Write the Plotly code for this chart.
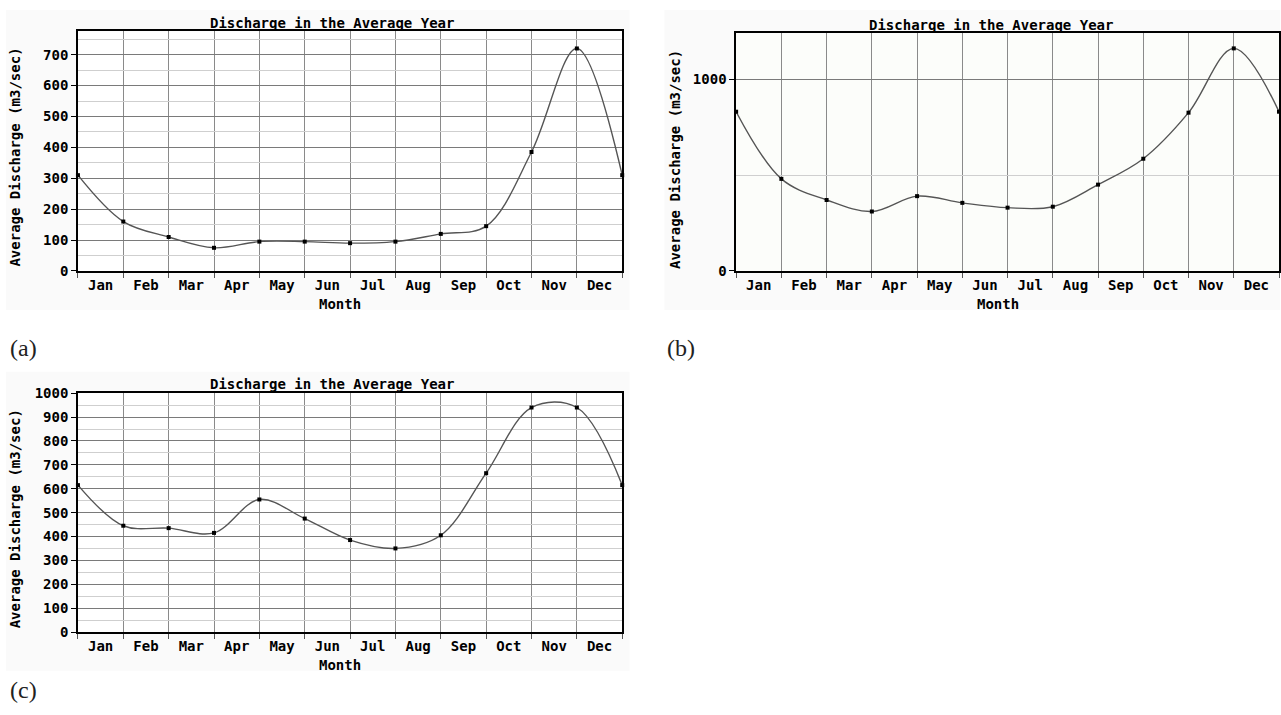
import plotly.graph_objects as go

W, H = 1281, 715

months = ["Jan", "Feb", "Mar", "Apr", "May", "Jun", "Jul", "Aug", "Sep", "Oct", "Nov", "Dec"]
discharge_a = [310, 160, 110, 75, 95, 95, 90, 95, 120, 145, 385, 720]
discharge_b = [830, 480, 370, 310, 390, 355, 330, 335, 450, 585, 825, 1160]
discharge_c = [615, 445, 435, 415, 555, 475, 385, 350, 405, 665, 940, 940]

title_text = "Discharge in the Average Year"
ytitle_text = "Average Discharge (m3/sec)"
xtitle_text = "Month"

FONT = "DejaVu Sans Mono"
FS = 14


def px_x(v):
    return v / W


def px_y(v):
    return 1 - v / H


panels = [
    dict(key="", vals=discharge_a, box=(78, 24, 622.7, 269), yr=[0, 775],
         ymaj=list(range(0, 701, 100)), ymin=list(range(50, 776, 50)),
         bg="#ffffff", chart=(6, 2, 630, 309),
         title=(332, 15), ytitle=(15, 152), xtitle=(340, 302.7), label=("(a)", 8, 348)),
    dict(key="2", vals=discharge_b, box=(736.7, 26, 1280, 269), yr=[0, 1238],
         ymaj=[0, 1000], ymin=[500],
         bg="#fcfdfa", chart=(665, 2, 1281, 309),
         title=(991.7, 17.7), ytitle=(675, 155), xtitle=(999, 302.7), label=("(b)", 666, 348)),
    dict(key="3", vals=discharge_c, box=(78, 394, 622.7, 638.3), yr=[0, 1000],
         ymaj=list(range(0, 1001, 100)), ymin=list(range(50, 1000, 100)),
         bg="#ffffff", chart=(6, 372, 630, 678),
         title=(332, 385), ytitle=(15, 522), xtitle=(340, 671.7), label=("(c)", 8, 698)),
]

fig = go.Figure()
shapes = []
annotations = []
layout = {}

for p in panels:
    k = p["key"]
    l, t, r, b = p["box"]
    xs = list(range(13))
    ys = p["vals"] + [p["vals"][0]]
    fig.add_trace(go.Scatter(
        x=xs, y=ys, mode="lines+markers",
        xaxis="x" + k, yaxis="y" + k,
        line=dict(color="#555555", width=1.4, shape="spline", smoothing=1),
        marker=dict(symbol="square", size=4, color="#000000"),
        cliponaxis=False, showlegend=False, hoverinfo="skip",
    ))
    layout["xaxis" + k] = dict(
        domain=[px_x(l), px_x(r)], anchor="y" + k, range=[0, 12],
        tickmode="array", tickvals=[i + 0.5 for i in range(12)], ticktext=months,
        ticks="", ticklen=0,
        showgrid=False, zeroline=False,
        showline=True, mirror=True, linecolor="#000000", linewidth=1.5,
        tickfont=dict(family=FONT, size=FS, color="#000000", weight="bold"),
        minor=dict(tickmode="array", tickvals=list(range(13)), ticks="outside",
                   ticklen=5, tickcolor="#555555", showgrid=True,
                   gridcolor="#8a8a8a", gridwidth=1),
        fixedrange=True,
    )
    layout["yaxis" + k] = dict(
        domain=[px_y(b), px_y(t)], anchor="x" + k, range=p["yr"],
        tickmode="array", tickvals=p["ymaj"],
        ticks="outside", ticklen=5, tickcolor="#000000",
        showgrid=True, gridcolor="#7a7a7a", gridwidth=1, zeroline=False,
        showline=True, mirror=True, linecolor="#000000", linewidth=1.5,
        tickfont=dict(family=FONT, size=FS, color="#000000", weight="bold"),
        minor=dict(tickmode="array", tickvals=p["ymin"], ticks="",
                   showgrid=True, gridcolor="#cfcfcf", gridwidth=1),
        fixedrange=True,
    )
    cl, ct, cr, cb = p["chart"]
    shapes.append(dict(type="rect", xref="paper", yref="paper", layer="below",
                       x0=px_x(cl), x1=px_x(cr), y0=px_y(cb), y1=px_y(ct),
                       fillcolor="#fafafa", line=dict(width=0)))
    shapes.append(dict(type="rect", xref="paper", yref="paper", layer="below",
                       x0=px_x(l), x1=px_x(r), y0=px_y(b), y1=px_y(t),
                       fillcolor=p["bg"], line=dict(width=0)))
    tx, ty = p["title"]
    annotations.append(dict(text=title_text, xref="paper", yref="paper",
                            x=px_x(tx), y=px_y(ty), xanchor="center", yanchor="middle",
                            showarrow=False,
                            font=dict(family=FONT, size=FS, color="#000000", weight="bold")))
    yx, yy = p["ytitle"]
    annotations.append(dict(text=ytitle_text, xref="paper", yref="paper",
                            x=px_x(yx), y=px_y(yy), xanchor="center", yanchor="middle",
                            textangle=-90, showarrow=False,
                            font=dict(family=FONT, size=FS, color="#000000", weight="bold")))
    mx, my = p["xtitle"]
    annotations.append(dict(text=xtitle_text, xref="paper", yref="paper",
                            x=px_x(mx), y=px_y(my), xanchor="center", yanchor="middle",
                            showarrow=False,
                            font=dict(family=FONT, size=FS, color="#000000", weight="bold")))
    lt, lx, ly = p["label"]
    annotations.append(dict(text=lt, xref="paper", yref="paper",
                            x=px_x(lx), y=px_y(ly), xanchor="left", yanchor="middle",
                            showarrow=False,
                            font=dict(family="Liberation Serif", size=24, color="#222222")))

fig.update_layout(
    width=W, height=H, margin=dict(l=0, r=0, t=0, b=0),
    paper_bgcolor="#ffffff", plot_bgcolor="rgba(0,0,0,0)",
    shapes=shapes, annotations=annotations, showlegend=False,
    **layout,
)

fig.write_html("out.html", config={"displayModeBar": False})
